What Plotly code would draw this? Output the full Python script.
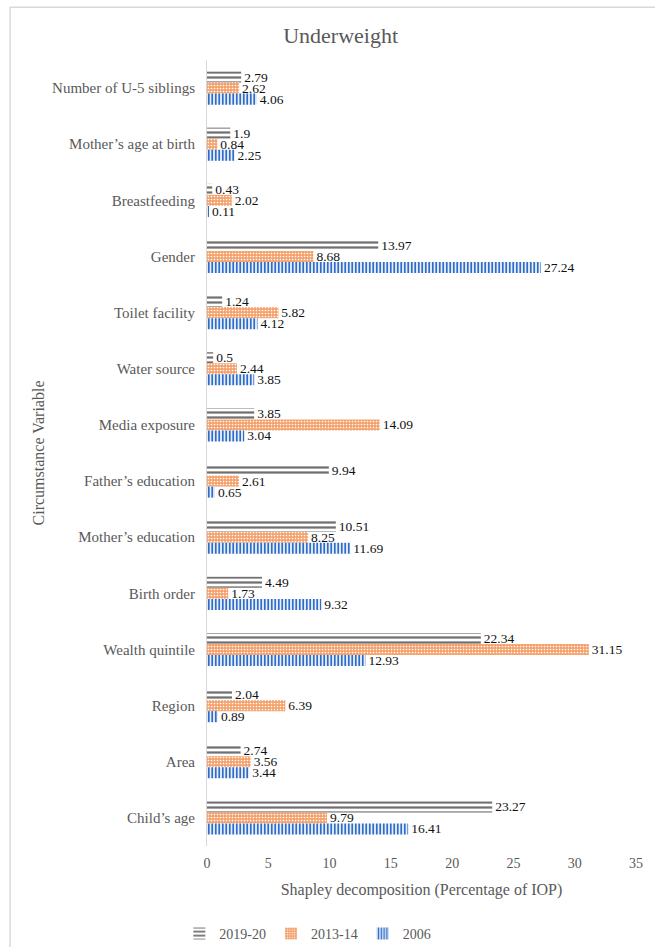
import plotly.graph_objects as go

categories = ["Number of U-5 siblings", "Mother\u2019s age at birth", "Breastfeeding", "Gender",
              "Toilet facility", "Water source", "Media exposure", "Father\u2019s education",
              "Mother\u2019s education", "Birth order", "Wealth quintile", "Region", "Area",
              "Child\u2019s age"]
v2019 = [2.79, 1.9, 0.43, 13.97, 1.24, 0.5, 3.85, 9.94, 10.51, 4.49, 22.34, 2.04, 2.74, 23.27]
v2013 = [2.62, 0.84, 2.02, 8.68, 5.82, 2.44, 14.09, 2.61, 8.25, 1.73, 31.15, 6.39, 3.56, 9.79]
v2006 = [4.06, 2.25, 0.11, 27.24, 4.12, 3.85, 3.04, 0.65, 11.69, 9.32, 12.93, 0.89, 3.44, 16.41]
series_names = ["2019-20", "2013-14", "2006"]

FONT = "Liberation Serif, Times New Roman, serif"

styles = [
    dict(shape="-", fgcolor="#707070", bgcolor="white", size=5, solidity=0.45, color="#707070"),
    dict(shape=".", fgcolor="#FFFFFF", bgcolor="#F4A06A", size=3, solidity=0.25, color="#F4A06A"),
    dict(shape="|", fgcolor="#2E6CC9", bgcolor="white", size=3.5, solidity=0.55, color="#2E6CC9"),
]

fig = go.Figure()
for name, vals, st in zip(series_names, [v2019, v2013, v2006], styles):
    fig.add_trace(go.Bar(
        y=categories, x=vals, name=name, orientation="h",
        text=[str(v) for v in vals], textposition="outside", cliponaxis=False,
        constraintext="none",
        textfont=dict(family=FONT, size=13.5, color="#111111"),
        marker=dict(color=st["color"], line=dict(width=0),
                    pattern=dict(shape=st["shape"], fgcolor=st["fgcolor"], bgcolor=st["bgcolor"],
                                 size=st["size"], solidity=st["solidity"], fillmode="replace")),
    ))

fig.update_layout(
    width=655, height=947,
    margin=dict(l=207, r=19, t=60, b=101, autoexpand=False),
    paper_bgcolor="white", plot_bgcolor="white",
    barmode="group", bargap=0.41, bargroupgap=0,
    title=dict(text="Underweight", x=0.52, xref="container", xanchor="center",
               y=1 - 35 / 947, yref="container", yanchor="middle",
               font=dict(family=FONT, size=22, color="#595959")),
    font=dict(family=FONT, color="#595959"),
    xaxis=dict(range=[0, 35], dtick=5, showgrid=False, zeroline=False, showline=False,
               ticks="outside", ticklen=4, tickcolor="rgba(0,0,0,0)",
               tickfont=dict(family=FONT, size=14, color="#595959"),
               title=dict(text="Shapley decomposition (Percentage of IOP)",
                          font=dict(family=FONT, size=16, color="#595959"), standoff=14)),
    yaxis=dict(autorange="reversed", showgrid=False, showline=True, linecolor="#d9d9d9",
               linewidth=1, ticks="", ticklabelstandoff=8,
               tickfont=dict(family=FONT, size=15, color="#595959"),
               title=dict(text="Circumstance Variable",
                          font=dict(family=FONT, size=16, color="#595959"), standoff=3)),
    legend=dict(orientation="h", x=0.47, xref="container", xanchor="center",
                y=(947 - 934) / 947, yref="container", yanchor="middle",
                font=dict(family=FONT, size=14, color="#595959"), traceorder="normal",
                itemwidth=30),
    showlegend=True,
    shapes=[dict(type="rect", xref="paper", yref="paper", x0=-0.459, x1=1.2, y0=-0.3, y1=1.067,
                 line=dict(color="#d9d9d9", width=1.5), layer="below")],
)

fig.write_html("out.html")
